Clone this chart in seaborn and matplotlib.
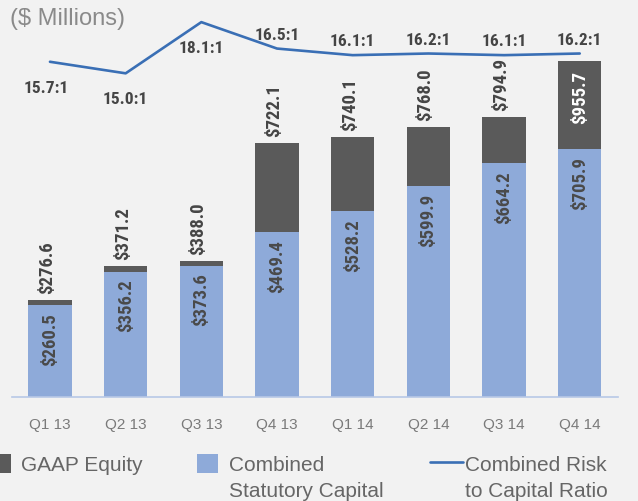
import matplotlib
matplotlib.use("Agg")
import matplotlib.pyplot as plt
import seaborn as sns
import numpy as np
import pandas as pd
from matplotlib.patches import Patch
from matplotlib.lines import Line2D

QUARTERS = ["Q1 13", "Q2 13", "Q3 13", "Q4 13", "Q1 14", "Q2 14", "Q3 14", "Q4 14"]
GAAP_EQUITY = [276.6, 371.2, 388.0, 722.1, 740.1, 768.0, 794.9, 955.7]
STAT_CAPITAL = [260.5, 356.2, 373.6, 469.4, 528.2, 599.9, 664.2, 705.9]
RISK_RATIO = [15.7, 15.0, 18.1, 16.5, 16.1, 16.2, 16.1, 16.2]

BG = "#f2f2f2"
DARK = "#5a5a5a"
BLUE = "#8eaad9"
LINE = "#3a6fb5"
NARROW = ["Roboto Condensed", "Liberation Sans Narrow", "DejaVu Sans"]

sns.set_theme(style="white")
plt.rcParams["font.family"] = ["Liberation Sans", "DejaVu Sans"]

df = pd.DataFrame({"quarter": QUARTERS, "gaap": GAAP_EQUITY,
                   "stat": STAT_CAPITAL, "ratio": RISK_RATIO})

fig = plt.figure(figsize=(6.38, 5.02), dpi=100, facecolor=BG)
ax = fig.add_axes([0.019, 0.207, 0.949, 0.793])
ax.set_facecolor(BG)

sns.barplot(data=df, x="quarter", y="gaap", color=DARK, width=0.57,
            saturation=1, linewidth=0, ax=ax)
sns.barplot(data=df, x="quarter", y="stat", color=BLUE, width=0.57,
            saturation=1, linewidth=0, ax=ax)
ax.set_ylim(0, 1131)
ax.set_xlim(-0.5, 7.5)
ax.set_xlabel("")
ax.set_ylabel("")
ax.set_yticks([])
for s in ["top", "right", "left"]:
    ax.spines[s].set_visible(False)
ax.spines["bottom"].set_color("#b8c8e6")
ax.spines["bottom"].set_linewidth(1.2)
ax.tick_params(axis="x", length=0, pad=14, labelsize=11, labelcolor="#7a7a7a")

# value labels
lab = dict(fontsize=13.5, fontweight="bold", fontstretch="condensed",
           family=NARROW, rotation=90, ha="center", textcoords="offset points")
for i, (tot, st) in enumerate(zip(GAAP_EQUITY, STAT_CAPITAL)):
    if i == len(GAAP_EQUITY) - 1:
        ax.annotate(f"${tot:.1f}", (i, tot), xytext=(0, -7), va="top",
                    color="white", **lab)
    else:
        ax.annotate(f"${tot:.1f}", (i, tot), xytext=(-2, 5), va="bottom",
                    color="#454545", **lab)
    ax.annotate(f"${st:.1f}", (i, st), xytext=(0, -5), va="top",
                color="#4a4a4a", **lab)

# ratio line on its own scale
ax2 = ax.twinx()
sns.lineplot(x=np.arange(len(RISK_RATIO)), y=RISK_RATIO, color=LINE,
             linewidth=1.9, ax=ax2)
ax2.set_ylim(-4.6, 19.5)
ax2.set_yticks([])
ax2.set_ylabel("")
for s in ax2.spines.values():
    s.set_visible(False)
for i, r in enumerate(RISK_RATIO):
    below = i < 3
    ax2.annotate(f"{r:.1f}:1", (i, r), xytext=(-3 if i == 0 else 0, -13 if below else 5),
                 textcoords="offset points", ha="center",
                 va="top" if below else "bottom", color="#454545",
                 fontsize=12.5, fontweight="bold", fontstretch="condensed",
                 family=NARROW)

fig.text(0.015, 0.963, "($ Millions)", fontsize=17, color="#8a8a8a",
         va="center", ha="left")

# legend: one entry each, second line of the label set below
entries = [
    (Patch(facecolor=DARK, edgecolor="none"), "GAAP Equity", "", -12, 1.1, 0.5),
    (Patch(facecolor=BLUE, edgecolor="none"), "Combined", "Statutory Capital", 197, 1.0, 0.55),
    (Line2D([0], [0], color=LINE, linewidth=1.9), "Combined Risk", "to Capital Ratio", 430, 1.6, 0.1),
]
for handle, first, second, px, hl, tp in entries:
    leg = fig.legend([handle], [first], loc="upper left",
                     bbox_to_anchor=(px / 638, 1 - 455 / 502), frameon=False,
                     fontsize=15, handlelength=hl, handleheight=1.0,
                     handletextpad=tp, borderpad=0, borderaxespad=0)
    leg.get_texts()[0].set_color("#666666")
    if second:
        tx = px + (hl + tp) * 15 * 100 / 72
        fig.text(tx / 638, 1 - 492 / 502, second, fontsize=15,
                 color="#666666", ha="left", va="center")

fig.savefig("out.png", dpi=100, facecolor=BG)
